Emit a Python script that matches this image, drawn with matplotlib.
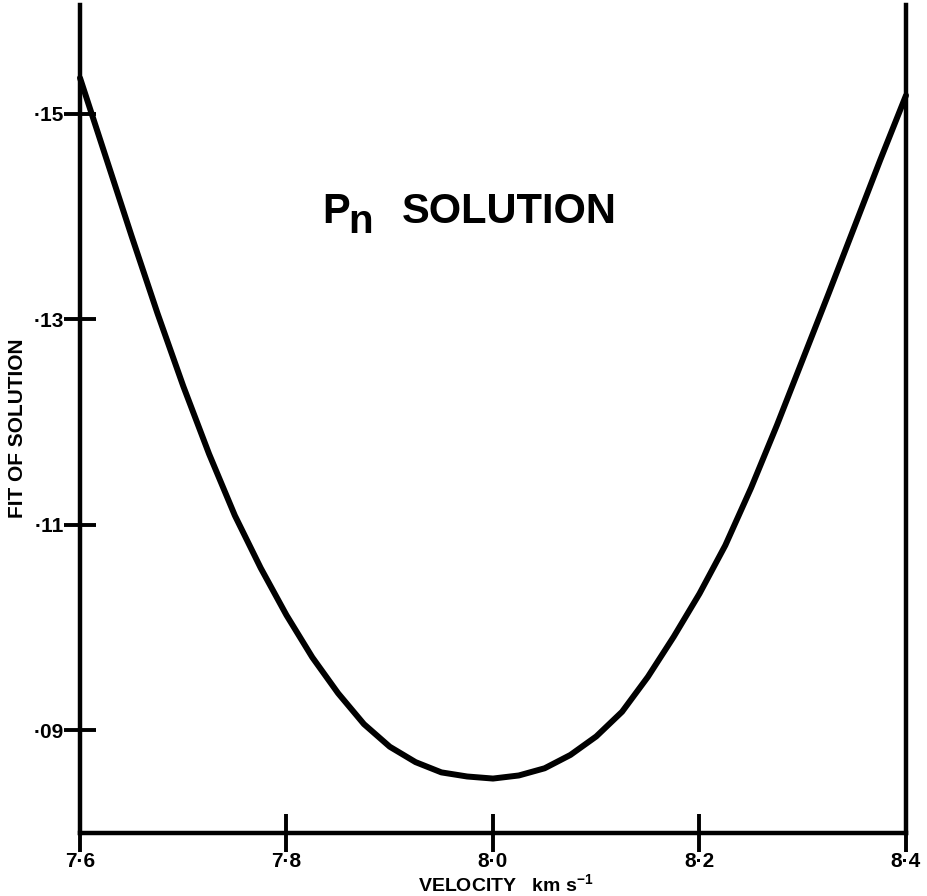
import numpy as np
import matplotlib.pyplot as plt

plt.rcParams['font.family'] = ['Liberation Sans', 'DejaVu Sans']
plt.rcParams['font.weight'] = 'bold'
plt.rcParams['mathtext.fontset'] = 'custom'
plt.rcParams['mathtext.rm'] = 'Liberation Sans:bold'
plt.rcParams['mathtext.bf'] = 'Liberation Sans:bold'

# velocity (km/s) and fit of the Pn solution
velocity = [7.600, 7.625, 7.650, 7.675, 7.700, 7.725, 7.750, 7.775, 7.800,
            7.825, 7.850, 7.875, 7.900, 7.925, 7.950, 7.975, 8.000,
            8.025, 8.050, 8.075, 8.100, 8.125, 8.150, 8.175, 8.200,
            8.225, 8.250, 8.275, 8.300, 8.325, 8.350, 8.375, 8.400]
fit = [0.1535, 0.1458, 0.1381, 0.1306, 0.1235, 0.1169, 0.1109, 0.1058, 0.1012,
       0.0971, 0.0936, 0.0906, 0.0884, 0.0869, 0.0859, 0.0855, 0.0853,
       0.0856, 0.0863, 0.0876, 0.0894, 0.0918, 0.0952, 0.0991, 0.1033,
       0.1080, 0.1136, 0.1197, 0.1261, 0.1325, 0.1390, 0.1455, 0.1518]

xticks = [7.6, 7.8, 8.0, 8.2, 8.4]
xticklabels = ['7·6', '7·8', '8·0', '8·2', '8·4']
yticks = [0.09, 0.11, 0.13, 0.15]
yticklabels = ['·09', '·11', '·13', '·15']

W, H = 928, 896

def px(x, y):
    return x / W, 1 - y / H

fig = plt.figure(figsize=(W / 100, H / 100), dpi=100)
ax = fig.add_axes([80 / W, 63 / H, 826 / W, 828 / H])

ax.plot(velocity, fit, color='black', lw=4.3, solid_capstyle='round',
        solid_joinstyle='round', clip_on=False, zorder=3)

ax.set_xlim(7.6, 8.4)
ax.set_ylim(0.08, 0.1606)

for side in ['left', 'right', 'bottom']:
    ax.spines[side].set_linewidth(3.2)
ax.spines['top'].set_visible(False)

ax.set_xticks(xticks)
ax.set_xticklabels(xticklabels)
ax.set_yticks(yticks)
ax.set_yticklabels(yticklabels)
ax.tick_params(axis='y', direction='inout', length=23, width=2.8,
               labelsize=15, pad=0)
ax.tick_params(axis='x', direction='inout', length=27, width=2.8,
               labelsize=15, pad=0)

# title and axis labels
fig.text(*px(322, 223), 'P', fontsize=30, fontweight='bold', ha='left', va='baseline')
fig.text(*px(348, 233), 'n', fontsize=29, fontweight='bold', ha='left', va='baseline')
fig.text(*px(402, 223), 'SOLUTION', fontsize=30, fontweight='bold',
         ha='left', va='baseline')

fig.text(*px(418, 892), r'VELOCITY   km s$^{-1}$', fontsize=14,
         fontweight='bold', ha='left', va='baseline')
fig.text(*px(18, 428), 'FIT OF SOLUTION', fontsize=15, fontweight='bold',
         rotation=90, ha='center', va='center')

fig.savefig('out.png', dpi=100)
